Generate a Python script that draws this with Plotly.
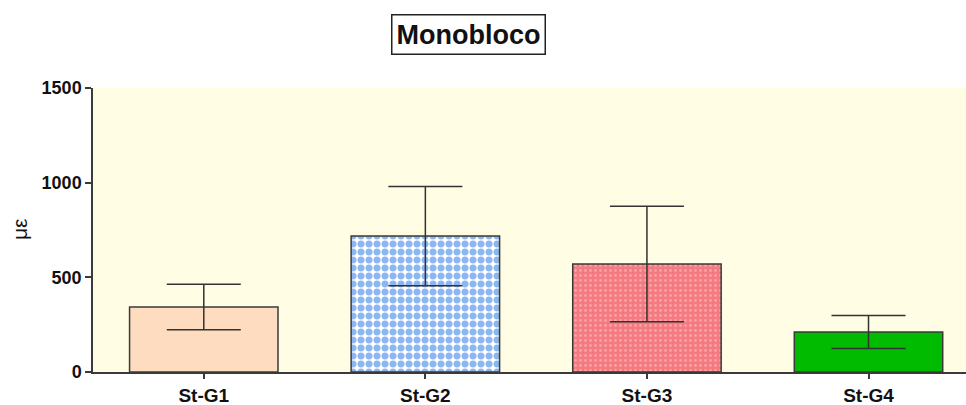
import plotly.graph_objects as go

categories = ["St-G1", "St-G2", "St-G3", "St-G4"]
means = [343, 718, 570, 211]
errors = [120, 262, 305, 87]
fill_colors = ["#fddcbf", "#ffffff", "#f47a80", "#00bb00"]
pattern_shapes = ["", ".", ".", ""]
pattern_fg = ["#fddcbf", "#8cb6f2", "#f9a3a8", "#00bb00"]
pattern_size = [8, 8, 5, 8]
pattern_solidity = [0.3, 0.6, 0.25, 0.3]
y_ticks = [0, 500, 1000, 1500]

fig = go.Figure()
for i, cat in enumerate(categories):
    pattern = None
    if pattern_shapes[i]:
        pattern = dict(shape=pattern_shapes[i], fgcolor=pattern_fg[i], bgcolor=fill_colors[i],
                       size=pattern_size[i], solidity=pattern_solidity[i], fillmode="replace")
    fig.add_trace(go.Bar(
        x=[cat],
        y=[means[i]],
        width=0.67,
        marker=dict(
            color=fill_colors[i],
            line=dict(color="#3a3a3a", width=1.5),
            pattern=pattern,
        ),
        error_y=dict(type="data", array=[errors[i]], visible=True, color="#333333",
                     thickness=1.5, width=37),
        showlegend=False,
    ))

fig.update_layout(
    width=966, height=405,
    margin=dict(l=93, r=0, t=88, b=33, autoexpand=False),
    paper_bgcolor="white",
    plot_bgcolor="#fffde4",
    font=dict(family="Liberation Sans, Arial, sans-serif", color="#111111"),
    barmode="overlay",
    xaxis=dict(
        range=[-0.5, 3.44], automargin=False,
        categoryorder="array", categoryarray=categories,
        showline=True, linecolor="#3a3a3a", linewidth=1.5,
        ticks="outside", ticklen=5, tickcolor="#3a3a3a", tickwidth=1.5,
        tickfont=dict(size=19, family="Liberation Sans, Arial, sans-serif", weight="bold"),
        showgrid=False, zeroline=False,
    ),
    yaxis=dict(
        range=[0, 1500], automargin=False,
        tickvals=y_ticks,
        showline=True, linecolor="#3a3a3a", linewidth=1.5,
        ticks="outside", ticklen=6, tickcolor="#3a3a3a", tickwidth=1.5,
        tickfont=dict(size=18, family="Liberation Sans, Arial, sans-serif", weight="bold"),
        showgrid=False, zeroline=False,
    ),
    annotations=[
        dict(text="<b>Monobloco</b>", xref="paper", yref="paper",
             x=(468 - 93) / (966 - 93), y=1 + (88 - 34) / 284.0,
             xanchor="center", yanchor="middle", showarrow=False,
             font=dict(size=27, color="#111111"),
             bordercolor="#222222", borderwidth=1.5, borderpad=4, bgcolor="white"),
        dict(text="με", xref="paper", yref="paper",
             x=-(93 - 19) / (966 - 93), y=(372 - 230) / 284.0,
             xanchor="center", yanchor="middle", showarrow=False, textangle=-90,
             font=dict(size=21, color="#111111")),
    ],
)

fig.write_html("out.html", config={"displayModeBar": False},
               post_script="document.body.style.margin='0';document.body.style.overflow='hidden';")
